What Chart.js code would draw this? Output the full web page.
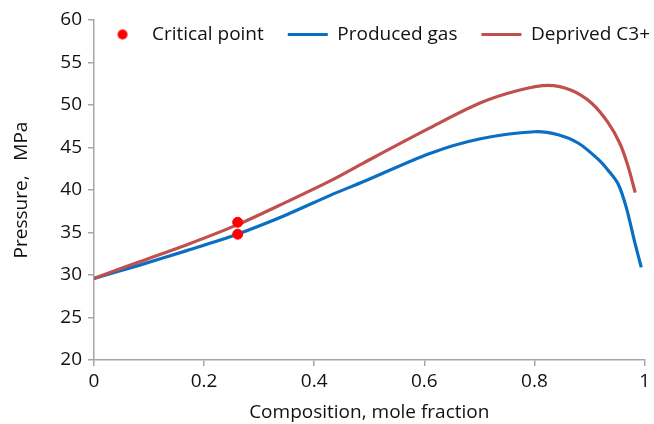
<!DOCTYPE html>
<html>
<head>
<meta charset="utf-8">
<script src="https://cdn.jsdelivr.net/npm/chart.js@4/dist/chart.umd.min.js"></script>
<style>
  html, body { margin: 0; padding: 0; background: #fff; }
  #wrap { width: 654px; height: 424px; }
</style>
</head>
<body>
<div id="wrap"><canvas id="chart" width="654" height="424"></canvas></div>
<script>
// values
const criticalX = [0.261, 0.261];
const criticalY = [36.2, 34.8];

const gasX = [0, 0.08, 0.17, 0.26, 0.35, 0.43, 0.49, 0.61, 0.70, 0.80, 0.843, 0.88, 0.916, 0.934, 0.952, 0.967, 0.982, 0.994];
const gasY = [29.6, 31.1, 32.9, 34.8, 37.1, 39.4, 41.0, 44.3, 46.0, 46.85, 46.5, 45.5, 43.6, 42.3, 40.7, 37.9, 33.9, 30.9];

const c3X = [0, 0.08, 0.17, 0.26, 0.35, 0.43, 0.49, 0.61, 0.70, 0.77, 0.825, 0.868, 0.904, 0.934, 0.955, 0.970, 0.983];
const c3Y = [29.6, 31.5, 33.6, 35.9, 38.6, 41.1, 43.2, 47.3, 50.2, 51.7, 52.3, 51.7, 50.2, 47.9, 45.5, 42.8, 39.7];

const xTicks = [0, 0.2, 0.4, 0.6, 0.8, 1];
const yTicks = [20, 25, 30, 35, 40, 45, 50, 55, 60];

const toPoints = (xs, ys) => xs.map((x, i) => ({ x: x, y: ys[i] }));

// little red dot for the legend
const dot = document.createElement('canvas');
dot.width = 12; dot.height = 12;
const dctx = dot.getContext('2d');
dctx.fillStyle = '#ff0000';
dctx.beginPath();
dctx.arc(6, 6, 5, 0, Math.PI * 2);
dctx.fill();

const font = "'Open Sans', 'DejaVu Sans', sans-serif";
const axisGrey = '#a6a6a6';
const textColor = '#111';
const legendGap = 24;

// legend sits inside the plot: take no room in the layout, then put it back for drawing
const floatingLegend = {
    id: 'floatingLegend',
    afterInit(chart) {
        const legend = chart.legend;
        const fit = legend.fit;
        legend.fit = function () {
            fit.call(this);
            this._realHeight = this.height;
            this.height = 0;
        };
    },
    afterLayout(chart) {
        const legend = chart.legend;
        legend.top = chart.chartArea.top - 19;
        legend.height = legend._realHeight;
        legend.bottom = legend.top + legend.height;
        // last item ends close to the canvas edge, as in the original
        legend.right = chart.width - 4 + legendGap;
    }
};

new Chart(document.getElementById('chart'), {
    type: 'scatter',
    data: {
        datasets: [{
            label: 'Critical point',
            data: toPoints(criticalX, criticalY),
            backgroundColor: '#ff0000',
            borderColor: '#ff0000',
            pointRadius: 5,
            order: 0
        }, {
            label: 'Produced gas',
            data: toPoints(gasX, gasY),
            showLine: true,
            borderColor: '#0a6fc2',
            backgroundColor: '#0a6fc2',
            borderWidth: 3.2,
            pointRadius: 0,
            tension: 0.3,
            order: 2
        }, {
            label: 'Deprived C3+',
            data: toPoints(c3X, c3Y),
            showLine: true,
            borderColor: '#c0504d',
            backgroundColor: '#c0504d',
            borderWidth: 3.2,
            pointRadius: 0,
            tension: 0.3,
            order: 1
        }]
    },
    plugins: [floatingLegend],
    options: {
        responsive: false,
        animation: false,
        layout: { padding: { top: 20, right: 7, left: 0, bottom: 0 } },
        plugins: {
            tooltip: { enabled: false },
            legend: {
                position: 'top',
                align: 'end',
                labels: {
                    usePointStyle: true,
                    pointStyleWidth: 40,
                    padding: legendGap,
                    color: textColor,
                    font: { family: font, size: 19 },
                    sort: (a, b) => a.datasetIndex - b.datasetIndex,
                    generateLabels(chart) {
                        const items = Chart.defaults.plugins.legend.labels.generateLabels(chart);
                        items.forEach(it => {
                            const ds = chart.data.datasets[it.datasetIndex];
                            if (ds.showLine) {
                                it.pointStyle = 'line';
                                it.strokeStyle = ds.borderColor;
                                it.lineWidth = 3.2;
                            } else {
                                it.pointStyle = dot;
                            }
                        });
                        return items;
                    }
                }
            }
        },
        scales: {
            x: {
                type: 'linear',
                min: 0,
                max: 1,
                afterFit: s => { s.height = 64; },
                afterBuildTicks: s => { s.ticks = xTicks.map(v => ({ value: v })); },
                border: { color: axisGrey, width: 1.5 },
                grid: { drawOnChartArea: false, color: axisGrey, tickLength: 6, lineWidth: 1.5 },
                ticks: {
                    padding: 4,
                    color: textColor,
                    font: { family: font, size: 19 },
                    callback: v => String(v)
                },
                title: {
                    display: true,
                    text: 'Composition, mole fraction',
                    color: textColor,
                    font: { family: font, size: 19 },
                    padding: { top: 0, bottom: 0 }
                }
            },
            y: {
                min: 20,
                max: 60,
                afterFit: s => { s.width = 94; },
                afterBuildTicks: s => { s.ticks = yTicks.map(v => ({ value: v })); },
                border: { color: axisGrey, width: 1.5 },
                grid: { drawOnChartArea: false, color: axisGrey, tickLength: 6, lineWidth: 1.5 },
                ticks: {
                    padding: 6,
                    color: textColor,
                    font: { family: font, size: 19 },
                    callback: v => String(v)
                },
                title: {
                    display: true,
                    text: 'Pressure,   MPa',
                    color: textColor,
                    font: { family: font, size: 19 },
                    padding: { top: 10, bottom: 0 }
                }
            }
        }
    }
});
</script>
</body>
</html>
